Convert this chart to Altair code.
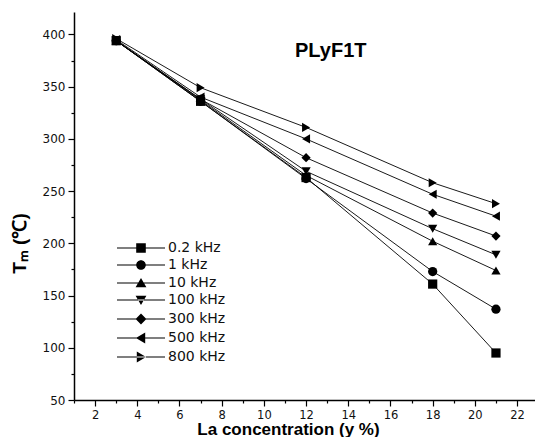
import altair as alt
import pandas as pd

conc = [3, 7, 12, 18, 21]
series = ["0.2 kHz", "1 kHz", "10 kHz", "100 kHz", "300 kHz", "500 kHz", "800 kHz"]
v_02 = [394, 336, 263, 161, 95]
v_1 = [394, 336, 262, 173, 137]
v_10 = [394, 337, 265, 202, 174]
v_100 = [394, 338, 269, 214, 189]
v_300 = [394, 338, 282, 229, 207]
v_500 = [395, 340, 300, 247, 226]
v_800 = [396, 349, 311, 258, 238]
all_vals = [v_02, v_1, v_10, v_100, v_300, v_500, v_800]

x_ticks = list(range(1, 23))
y_ticks = list(range(50, 425, 25))

rows = []
for s, vals in zip(series, all_vals):
    for c, v in zip(conc, vals):
        rows.append({"conc": c, "Tm": v, "series": s})
df = pd.DataFrame(rows)

point_shapes = ["square", "circle", "triangle-up", "triangle-down", "diamond",
                "triangle-left", "triangle-right"]
L = "M-4,-0.09H4V0.09H-4Z"
legend_shapes = [
    L + "M-0.8,-0.8H0.8V0.8H-0.8Z",
    L + "M0.8,0A0.8,0.8,0,1,1,-0.8,0A0.8,0.8,0,1,1,0.8,0Z",
    L + "M0,-0.85L0.9,0.7H-0.9Z",
    L + "M0,0.85L0.9,-0.7H-0.9Z",
    L + "M0,-0.9L0.9,0L0,0.9L-0.9,0Z",
    L + "M-0.85,0L0.7,-0.9V0.9Z",
    L + "M0.85,0L-0.7,-0.9V0.9Z",
]

FONT = "DejaVu Sans"
TFONT = "Liberation Sans"

x_enc = alt.X("conc:Q", scale=alt.Scale(domain=[1, 22.85], nice=False, zero=False),
              axis=alt.Axis(values=x_ticks, title="La concentration (y %)",
                            labelExpr="datum.value % 2 == 0 ? datum.label : ''",
                            tickSize={"condition": {"test": "datum.value % 2 == 0", "value": 6}, "value": 3},
                            grid=False, labelFont=FONT, labelFontSize=11.5, labelColor="#111",
                            labelPadding=3,
                            titleFont=TFONT, titleFontSize=17, titleFontWeight="bold",
                            titleX=214, titleY=34, titleAnchor="middle",
                            titleAlign="center", titleBaseline="alphabetic"))
y_enc = alt.Y("Tm:Q", scale=alt.Scale(domain=[50, 421.5], nice=False, zero=False),
              axis=alt.Axis(values=y_ticks, title="Tₘ (℃)",
                            labelExpr="datum.value % 50 == 0 ? datum.label : ''",
                            tickSize={"condition": {"test": "datum.value % 50 == 0", "value": 6}, "value": 3},
                            grid=False, labelFont=FONT, labelFontSize=12, labelColor="#111",
                            labelPadding=3,
                            titleFont=TFONT, titleFontSize=19, titleFontWeight="bold",
                            titleX=-55, titleY=231, titleAlign="center",
                            titleBaseline="middle", titleAngle=270))

base = alt.Chart(df)

lines = base.mark_line(color="black", strokeWidth=0.9).encode(
    x=x_enc, y=y_enc, detail="series:N")

points = base.mark_point(filled=True, color="black", opacity=1, size=85).encode(
    x=x_enc, y=y_enc,
    shape=alt.Shape("series:N", scale=alt.Scale(domain=series, range=point_shapes), legend=None))

legend_layer = base.mark_point(filled=True, color="black", opacity=0, size=144).encode(
    x=x_enc, y=y_enc,
    shape=alt.Shape("series:N", scale=alt.Scale(domain=series, range=legend_shapes),
                    legend=alt.Legend(title=None, orient="none", legendX=60, legendY=229,
                                      symbolOpacity=1, symbolFillColor="black",
                                      symbolSize=144, labelFont=FONT, labelFontSize=14,
                                      labelColor="#111", labelOffset=20, rowPadding=1,
                                      padding=0)))

chart = alt.layer(lines, points, legend_layer).resolve_scale(shape="independent").properties(
    width=461, height=388,
    title=alt.TitleParams("PLyF1T", anchor="start", dx=285, dy=65, offset=0,
                          font=TFONT, fontSize=20, fontWeight="bold", baseline="alphabetic"),
    autosize=alt.AutoSizeParams(type="none"),
    padding={"left": 74, "top": 12, "right": 0, "bottom": 37},
).configure_view(stroke=None).configure_axis(
    domainColor="black", domainWidth=1.5, tickColor="black", tickWidth=1.2
)

chart.save("out.html", embed_options={"renderer": "svg", "actions": False})
